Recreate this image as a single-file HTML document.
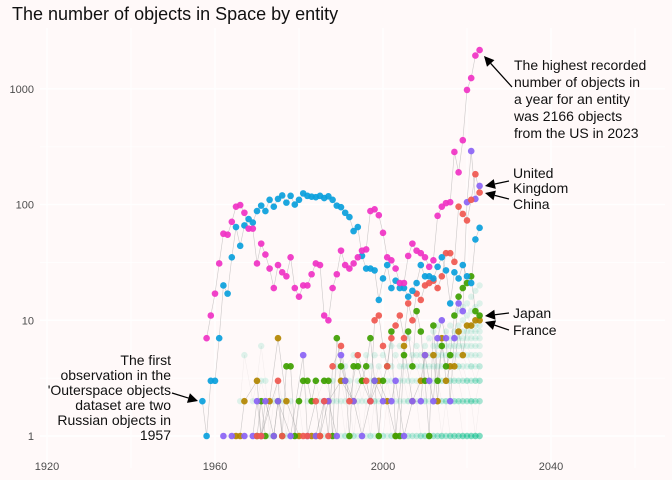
<!DOCTYPE html>
<html><head><meta charset="utf-8">
<style>
html,body{margin:0;padding:0;background:#fff9f9;}
svg{display:block;font-family:"Liberation Sans",sans-serif;}
</style></head>
<body>
<svg id="chart" width="672" height="480" viewBox="0 0 672 480">
<rect x="0" y="0" width="672" height="480" fill="#fff9f9"/>
<g id="grid"></g>
<g id="axes"></g>
<g id="lines"></g>
<g id="points"></g>
<text x="12" y="20" font-size="18" fill="#111">The number of objects in Space by entity</text>
<g font-size="14" fill="#111">
<text x="514" y="70">The highest recorded</text>
<text x="514" y="87">number of objects in</text>
<text x="514" y="104">a year for an entity</text>
<text x="514" y="121">was 2166 objects</text>
<text x="514" y="138">from the US in 2023</text>
</g>
<g font-size="14" fill="#111">
<text x="513" y="178">United</text><text x="513" y="193">Kingdom</text></g>
<text x="513" y="209" font-size="14" fill="#111">China</text>
<text x="513" y="318" font-size="14" fill="#111">Japan</text>
<text x="513" y="335" font-size="14" fill="#111">France</text>
<g font-size="14" fill="#111" text-anchor="end">
<text x="171" y="365">The first</text>
<text x="171" y="380">observation in the</text>
<text x="171" y="395">'Outerspace objects</text>
<text x="171" y="410">dataset are two</text>
<text x="171" y="425">Russian objects in</text>
<text x="171" y="440">1957</text>
</g>
<g id="arrows"></g>
</svg>
<script>
// ---- data ----
const xTicks = [1920, 1960, 2000, 2040];
const xMinor = [1940, 1980, 2020, 2060];
const yTicks = [1, 10, 100, 1000];
const yTickLabels = ["1", "10", "100", "1000"];
const yMinor = [3.162, 31.62, 316.2];

const usStart = 1958;
const usValues = [7,11,17,31,56,55,71,96,99,85, 62,62,31,46,37,28,19,30,26,24, 35,19,16,20,20,25,31,30,11,10, 19,25,40,30,28,31,35,40,41,88, 91,81,57,35,33,28,21,21,36,46, 40,38,35,29,33,80,96,103,105,285, 190,360,980,1240,1940,2166];
const ruStart = 1957;
const ruValues = [2,1,3,3,7,20,17,35,64,44, 66,75,70,88,98,88,110,96,112,120, 104,119,100,110,125,119,117,116,119,114, 118,110,98,95,85,78,59,64,36,28, 28,27,15,23,30,19,22,19,19,16, 18,21,30,24,24,23,29,35,27,14, 26,23,30,24,21,50,63];
const cnYears = [1970,1971,1975,1976,1981,1982,1984,1985,1986,1987,1988,1990,1992,1994,1996,1997,1998,1999,2000,2001,2002,2003,2004,2005,2006,2007,2008,2009,2010,2011,2012,2013,2014,2015,2016,2017,2018,2019,2020,2021,2022,2023];
const cnValues = [1,1,3,1,1,1,2,1,2,1,4,6,2,5,3,2,10,11,6,4,7,9,11,7,14,10,17,15,20,21,22,19,24,38,38,32,96,83,73,110,183,127];
const ukYears = [1962,1964,1967,1969,1970,1971,1972,1974,1975,1978,1981,1982,1984,1986,1987,1989,1990,1991,1993,1995,1997,1998,2000,2002,2003,2005,2007,2009,2010,2011,2012,2013,2014,2015,2016,2017,2018,2019,2020,2021,2022,2023];
const ukValues = [1,1,1,1,2,1,2,1,2,1,5,1,1,2,2,1,5,3,2,1,2,3,2,2,3,1,2,2,5,3,2,7,10,7,2,7,14,12,105,290,112,145];
const jpYears = [1970,1971,1972,1974,1975,1976,1977,1978,1979,1980,1981,1982,1983,1984,1986,1987,1988,1989,1990,1991,1992,1993,1994,1995,1996,1997,1998,1999,2000,2001,2002,2003,2004,2005,2006,2007,2008,2009,2010,2011,2012,2013,2014,2015,2016,2017,2018,2019,2020,2021,2022,2023];
const jpValues = [1,2,1,1,2,1,4,4,1,2,3,3,2,3,3,3,1,7,4,3,1,4,4,3,4,7,3,1,3,4,8,1,1,5,8,4,12,8,3,1,9,3,6,4,5,11,16,19,21,24,12,11];
const frYears = [1965,1966,1967,1970,1971,1973,1975,1977,1980,1983,1984,1985,1987,1990,1993,1995,1997,1999,2001,2003,2005,2007,2009,2010,2012,2013,2014,2015,2016,2017,2018,2019,2020,2021,2022,2023];
const frValues = [1,1,2,3,1,2,7,2,1,1,1,1,2,3,2,3,2,3,2,1,6,2,3,5,5,2,7,3,4,4,8,5,9,9,10,10];
const otherYears = [1966,1967,1968,1969,1970,1971,1972,1973,1974,1975,1976,1977,1978,1979,1980,1981,1982,1983,1984,1985,1986,1987,1988,1989,1990,1991,1992,1993,1994,1995,1996,1997,1998,1999,2000,2001,2002,2003,2004,2005,2006,2007,2008,2009,2010,2011,2012,2013,2014,2015,2016,2017,2018,2019,2020,2021,2022,2023];
const otherValues = [[2],[5],[],[2],[3,2],[6,3],[3],[1],[2,1],[3],[2,1],[1],[2,1],[1,1],[2],[1,3],[1,2],[1,2],[1,3,2],[1,2],[1,2,3],[1,2],[1,3,2],[1,2,4],[1,2,3],[1,1,2,4],[1,2,3],[1,1,2,5],[1,2,3,4],[1,1,2,3],[1,2,3,5],[1,1,2,3,4],[1,2,2,3,5],[1,1,2,4],[1,1,2,3,5],[1,2,3,4],[1,1,2,3,4,6],[1,1,2,3,5],[1,1,2,3,4,6],[1,1,2,3,4,5],[1,1,2,2,3,4,7],[1,1,2,3,4,5],[1,1,2,3,4,5,6],[1,1,1,2,3,4,5,8],[1,1,1,2,2,3,4,5,6],[1,1,1,2,3,3,4,5,7],[1,1,1,2,2,3,4,5,6,8],[1,1,1,2,2,3,3,4,5,6,9],[1,1,1,1,2,2,3,3,4,5,6,7,10],[1,1,1,2,2,2,3,3,4,5,6,8],[1,1,1,1,2,2,3,3,4,4,5,6,7,9],[1,1,1,1,2,2,2,3,3,4,5,6,7,8,11],[1,1,1,1,2,2,2,3,3,4,4,5,6,7,8,9,12],[1,1,1,1,1,2,2,2,3,3,4,5,6,7,8,10,13],[1,1,1,1,1,2,2,2,3,3,3,4,5,6,7,8,9,11,14],[1,1,1,1,1,2,2,2,2,3,3,4,4,5,6,7,8,9,12,16],[1,1,1,1,1,1,2,2,2,3,3,3,4,5,6,7,8,9,10,13,18],[1,1,1,1,1,2,2,2,3,3,3,4,4,5,6,7,8,9,11,14,20]];

// ---- scales ----
const X0 = 47, XPY = 4.2, Y1 = 436, YPD = 115.7;
function x(yr){ return X0 + (yr - 1920) * XPY; }
function y(v){ return Y1 - Math.log10(v) * YPD; }
const NS = "http://www.w3.org/2000/svg";
function mk(tag, attrs, parent){ const e = document.createElementNS(NS, tag); for (const k in attrs) e.setAttribute(k, attrs[k]); parent.appendChild(e); return e; }
const gGrid = document.getElementById('grid'), gAxes = document.getElementById('axes'), gLines = document.getElementById('lines'), gPts = document.getElementById('points'), gArr = document.getElementById('arrows');
const PL = 40, PR = 665, PT = 28, PB = 468;

xMinor.forEach(t => { const l = mk('line', {x1:x(t), x2:x(t), y1:PT, y2:PB, stroke:'#ffffff', 'stroke-width':0.8}, gGrid);

 });
yMinor.forEach(t => { const l = mk('line', {x1:PL, x2:PR, y1:y(t), y2:y(t), stroke:'#ffffff', 'stroke-width':0.8}, gGrid);

 });
xTicks.forEach(t => { const l = mk('line', {x1:x(t), x2:x(t), y1:PT, y2:PB, stroke:'#ffffff', 'stroke-width':1.4}, gGrid);


const tx = mk('text', {x:x(t), y:470, 'font-size':11, fill:'#4d4d4d', 'text-anchor':'middle'}, gAxes); tx.textContent = t;

 });
yTicks.forEach((t, i) => { const l = mk('line', {x1:PL, x2:PR, y1:y(t), y2:y(t), stroke:'#ffffff', 'stroke-width':1.4}, gGrid);


const tx = mk('text', {x:34, y:y(t)+4, 'font-size':11, fill:'#4d4d4d', 'text-anchor':'end'}, gAxes); tx.textContent = yTickLabels[i];

 });

// others
const otherSlots = [];
otherYears.forEach((yr, i) => { otherValues[i].forEach((v, k) => { (otherSlots[k] = otherSlots[k] || []).push([yr, v]); }); });
otherSlots.forEach(s => { if (s.length < 2) return; const p = mk('path', {d: s.map((q, j) => (j ? 'L' : 'M') + x(q[0]) + ' ' + y(q[1])).join(''), fill:'none', stroke:'#888', 'stroke-opacity':0.12, 'stroke-width':0.5}, gLines);

 });
otherYears.forEach((yr, i) => { otherValues[i].forEach(v => { const c = mk('circle', {cx:x(yr), cy:y(v), r:3.2, fill:'#00bf8c', 'fill-opacity':0.13}, gPts);

 }); });

function series(name, years, values, color){
  const p = mk('path', {d: years.map((yr, j) => (j ? 'L' : 'M') + x(yr) + ' ' + y(values[j])).join(''), fill:'none', stroke:'#999', 'stroke-opacity':0.5, 'stroke-width':0.6}, gLines);
  
  
  years.forEach((yr, j) => { const c = mk('circle', {cx:x(yr), cy:y(values[j]), r:3.3, fill:color, 'fill-opacity':0.92}, gPts);
  
   });
}
const usYears = usValues.map((_, i) => usStart + i);
const ruYears = ruValues.map((_, i) => ruStart + i);
series('france', frYears, frValues, '#b38600');
series('japan', jpYears, jpValues, '#3f9f00');
series('uk', ukYears, ukValues, '#8b63f5');
series('china', cnYears, cnValues, '#f0574f');
series('russia', ruYears, ruValues, '#0aa0dc');
series('us', usYears, usValues, '#f032c4');

// arrows
function arrow(x1, y1, x2, y2){
  const a = Math.atan2(y2 - y1, x2 - x1), L = 10, W = 5;
  const bx = x2 - L * Math.cos(a), by = y2 - L * Math.sin(a);
  const l = mk('line', {x1:x1, y1:y1, x2:bx, y2:by, stroke:'#000', 'stroke-width':1.3}, gArr);
  
  
  const h = mk('polygon', {points: x2 + ',' + y2 + ' ' + (bx + W * Math.sin(a)) + ',' + (by - W * Math.cos(a)) + ' ' + (bx - W * Math.sin(a)) + ',' + (by + W * Math.cos(a)), fill:'#000'}, gArr);
  
  
}
arrow(512, 87, 484, 56);
arrow(509, 181, 485, 186);
arrow(509, 199, 485, 193);
arrow(509, 313, 485, 316);
arrow(509, 330, 485, 322);
arrow(172, 393, 198, 401);
</script>
</body></html>
